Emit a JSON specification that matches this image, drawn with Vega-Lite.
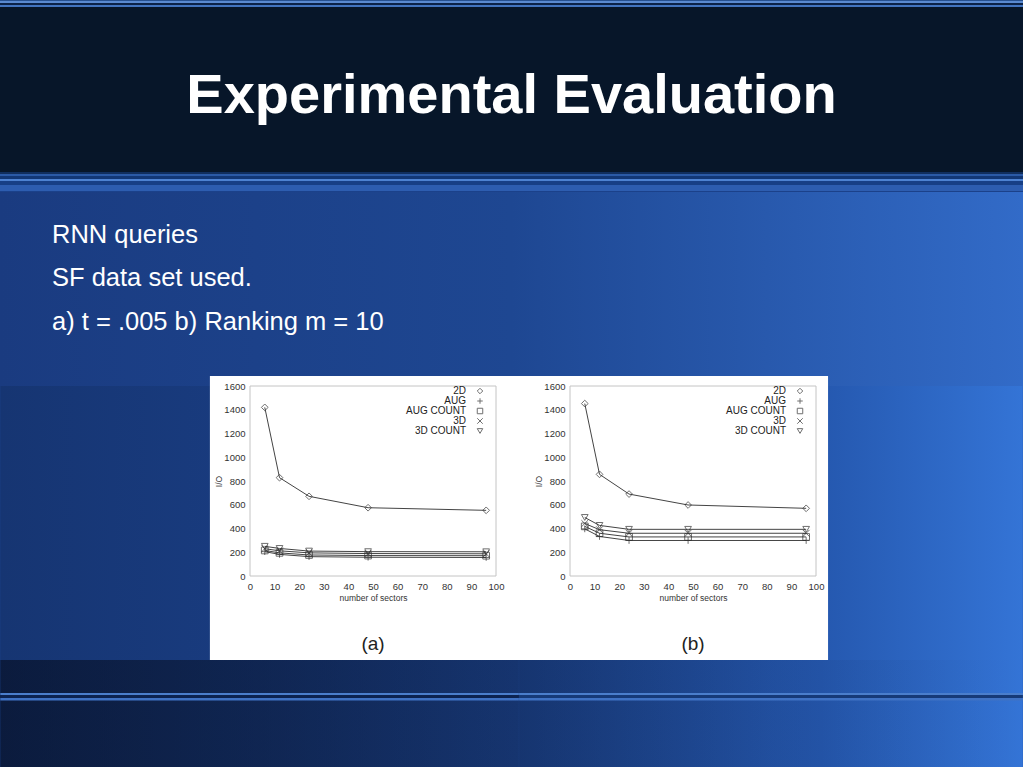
{
  "$schema": "https://vega.github.io/schema/vega-lite/v6.json",
  "padding": 0,
  "background": "#1a4088",
  "spacing": 0,
  "bounds": "flush",
  "resolve": {"legend": {"shape": "independent"}},
  "config": {
    "view": {"stroke": null},
    "font": "Liberation Sans",
    "axis": {"grid": false, "domain": false, "ticks": false, "labelFlush": false, "labelOverlap": false, "labelFontSize": 9.5, "labelColor": "#333", "labelPadding": 5, "titleFontSize": 8.5, "titleFontWeight": "normal", "titleColor": "#333", "labelFont": "Liberation Sans", "titleFont": "Liberation Sans"},
    "axisX": {"titlePadding": 3},
    "axisY": {"titlePadding": 0}
  },
  "datasets": {
    "a": [
      {"series": "2D", "sectors": 6, "io": 1420},
      {"series": "2D", "sectors": 12, "io": 828},
      {"series": "2D", "sectors": 24, "io": 671},
      {"series": "2D", "sectors": 48, "io": 575},
      {"series": "2D", "sectors": 96, "io": 553},
      {"series": "AUG", "sectors": 6, "io": 205},
      {"series": "AUG", "sectors": 12, "io": 182},
      {"series": "AUG", "sectors": 24, "io": 163},
      {"series": "AUG", "sectors": 48, "io": 158},
      {"series": "AUG", "sectors": 96, "io": 156},
      {"series": "AUG COUNT", "sectors": 6, "io": 215},
      {"series": "AUG COUNT", "sectors": 12, "io": 195},
      {"series": "AUG COUNT", "sectors": 24, "io": 177},
      {"series": "AUG COUNT", "sectors": 48, "io": 172},
      {"series": "AUG COUNT", "sectors": 96, "io": 171},
      {"series": "3D", "sectors": 6, "io": 230},
      {"series": "3D", "sectors": 12, "io": 212},
      {"series": "3D", "sectors": 24, "io": 195},
      {"series": "3D", "sectors": 48, "io": 189},
      {"series": "3D", "sectors": 96, "io": 187},
      {"series": "3D COUNT", "sectors": 6, "io": 250},
      {"series": "3D COUNT", "sectors": 12, "io": 232},
      {"series": "3D COUNT", "sectors": 24, "io": 210},
      {"series": "3D COUNT", "sectors": 48, "io": 205},
      {"series": "3D COUNT", "sectors": 96, "io": 204}
    ],
    "b": [
      {"series": "2D", "sectors": 6, "io": 1452},
      {"series": "2D", "sectors": 12, "io": 856},
      {"series": "2D", "sectors": 24, "io": 690},
      {"series": "2D", "sectors": 48, "io": 598},
      {"series": "2D", "sectors": 96, "io": 570},
      {"series": "AUG", "sectors": 6, "io": 397},
      {"series": "AUG", "sectors": 12, "io": 333},
      {"series": "AUG", "sectors": 24, "io": 299},
      {"series": "AUG", "sectors": 48, "io": 299},
      {"series": "AUG", "sectors": 96, "io": 299},
      {"series": "AUG COUNT", "sectors": 6, "io": 418},
      {"series": "AUG COUNT", "sectors": 12, "io": 360},
      {"series": "AUG COUNT", "sectors": 24, "io": 329},
      {"series": "AUG COUNT", "sectors": 48, "io": 329},
      {"series": "AUG COUNT", "sectors": 96, "io": 329},
      {"series": "3D", "sectors": 6, "io": 442},
      {"series": "3D", "sectors": 12, "io": 390},
      {"series": "3D", "sectors": 24, "io": 360},
      {"series": "3D", "sectors": 48, "io": 360},
      {"series": "3D", "sectors": 96, "io": 360},
      {"series": "3D COUNT", "sectors": 6, "io": 493},
      {"series": "3D COUNT", "sectors": 12, "io": 426},
      {"series": "3D COUNT", "sectors": 24, "io": 393},
      {"series": "3D COUNT", "sectors": 48, "io": 393},
      {"series": "3D COUNT", "sectors": 96, "io": 393}
    ]
  },
  "vconcat": [
    {
      "width": 1023,
      "height": 192,
      "data": {"values": [{"t": "Experimental Evaluation"}]},
      "layer": [
        {
          "mark": {"type": "rect", "fill": {"gradient": "linear", "x1": 0, "y1": 0, "x2": 0, "y2": 1, "stops": [
            {"offset": 0, "color": "#26508f"},
            {"offset": 0.0078, "color": "#26508f"},
            {"offset": 0.0078, "color": "#5a8ad0"},
            {"offset": 0.018, "color": "#5a8ad0"},
            {"offset": 0.018, "color": "#0c2348"},
            {"offset": 0.0286, "color": "#0c2348"},
            {"offset": 0.0286, "color": "#4274bf"},
            {"offset": 0.039, "color": "#4274bf"},
            {"offset": 0.039, "color": "#071629"},
            {"offset": 0.8958, "color": "#071629"},
            {"offset": 0.8958, "color": "#102e5e"},
            {"offset": 0.9062, "color": "#102e5e"},
            {"offset": 0.9062, "color": "#2b5aa6"},
            {"offset": 0.9167, "color": "#2b5aa6"},
            {"offset": 0.9167, "color": "#123776"},
            {"offset": 0.9323, "color": "#123776"},
            {"offset": 0.9323, "color": "#4d82d2"},
            {"offset": 0.9427, "color": "#4d82d2"},
            {"offset": 0.9427, "color": "#173f86"},
            {"offset": 0.9635, "color": "#173f86"},
            {"offset": 0.9635, "color": "#2d5db0"},
            {"offset": 0.9948, "color": "#2d5db0"},
            {"offset": 0.9948, "color": "#1b418a"},
            {"offset": 1, "color": "#1b418a"}
          ]}},
          "encoding": {}
        },
        {
          "mark": {"type": "text", "fontSize": 56, "fontWeight": "bold", "color": "white", "font": "Liberation Sans", "baseline": "middle", "align": "center"},
          "encoding": {"text": {"field": "t"}}
        }
      ]
    },
    {
      "width": 1023,
      "height": 194,
      "data": {"values": [{}]},
      "title": {
        "text": ["RNN queries", "SF data set used.", "a) t = .005 b) Ranking m = 10"],
        "orient": "top", "anchor": "start", "frame": "group", "offset": -143, "dx": 52,
        "baseline": "top", "fontSize": 25.5, "lineHeight": 43.5, "font": "Liberation Sans",
        "fontWeight": "normal", "color": "white"
      },
      "mark": {"type": "rect", "fill": {"gradient": "linear", "x1": 0, "y1": 0, "x2": 1, "y2": 0, "stops": [
        {"offset": 0, "color": "#1a3b80"},
        {"offset": 0.5, "color": "#1e4792"},
        {"offset": 1, "color": "#326bc8"}
      ]}},
      "encoding": {}
    },
    {
      "bounds": "flush",
      "spacing": 74,
      "resolve": {"legend": {"shape": "independent"}},
      "hconcat": [
        {
          "width": 176,
          "height": 190,
          "data": {"values": [{}]},
          "mark": {"type": "rect", "opacity": 0},
          "encoding": {}
        },
        {
          "width": 246,
          "height": 190,
          "title": {"text": "(a)", "orient": "bottom", "frame": "group", "anchor": "middle", "baseline": "top", "offset": -132, "fontSize": 19, "fontWeight": "normal", "color": "#222", "font": "Liberation Sans"},
          "layer": [
            {
              "data": {"values": [{}]},
              "mark": {"type": "rect", "clip": false, "fill": {"gradient": "linear", "x1": 0, "y1": 0, "x2": 1, "y2": 0, "stops": [
                {"offset": 0, "color": "#163572"},
                {"offset": 0.5, "color": "#193c80"},
                {"offset": 1, "color": "#1c438c"}
              ]}},
              "encoding": {
                "x": {"datum": -101.5, "type": "quantitative", "scale": {"domain": [0, 100]}, "axis": {"title": "number of sectors", "values": [0, 10, 20, 30, 40, 50, 60, 70, 80, 90, 100], "zindex": 1}},
                "x2": {"datum": 109.3},
                "y": {"datum": -1608, "type": "quantitative", "scale": {"domain": [0, 1600]}, "axis": {"title": "I/O", "format": "d", "values": [0, 200, 400, 600, 800, 1000, 1200, 1400, 1600], "zindex": 1}},
                "y2": {"datum": 1600}
              }
            },
            {
              "data": {"values": [{}]},
              "mark": {"type": "rect", "clip": false, "fill": {"gradient": "linear", "x1": 0, "y1": 0, "x2": 1, "y2": 0, "stops": [
                {"offset": 0, "color": "rgba(4,10,26,0.6)"},
                {"offset": 0.5, "color": "rgba(4,10,26,0.45)"},
                {"offset": 1, "color": "rgba(4,10,26,0.25)"}
              ]}},
              "encoding": {
                "x": {"datum": -101.5, "type": "quantitative", "scale": {"domain": [0, 100]}, "axis": {"title": "number of sectors", "values": [0, 10, 20, 30, 40, 50, 60, 70, 80, 90, 100], "zindex": 1}},
                "x2": {"datum": 109.3},
                "y": {"datum": -1608, "type": "quantitative", "scale": {"domain": [0, 1600]}, "axis": {"title": "I/O", "format": "d", "values": [0, 200, 400, 600, 800, 1000, 1200, 1400, 1600], "zindex": 1}},
                "y2": {"datum": -707}
              }
            },
            {
              "data": {"values": [{}]},
              "mark": {"type": "rect", "clip": false, "fill": {"gradient": "linear", "x1": 0, "y1": 0, "x2": 0, "y2": 1, "stops": [
                {"offset": 0, "color": "#4a7ecc"},
                {"offset": 0.333, "color": "#4a7ecc"},
                {"offset": 0.333, "color": "#0c2350"},
                {"offset": 0.733, "color": "#0c2350"},
                {"offset": 0.733, "color": "#3f72c4"},
                {"offset": 1, "color": "#3f72c4"}
              ]}},
              "encoding": {
                "x": {"datum": -101.5, "type": "quantitative", "scale": {"domain": [0, 100]}, "axis": {"title": "number of sectors", "values": [0, 10, 20, 30, 40, 50, 60, 70, 80, 90, 100], "zindex": 1}},
                "x2": {"datum": 109.3},
                "y": {"datum": -985.3, "type": "quantitative", "scale": {"domain": [0, 1600]}, "axis": {"title": "I/O", "format": "d", "values": [0, 200, 400, 600, 800, 1000, 1200, 1400, 1600], "zindex": 1}},
                "y2": {"datum": -1048.4}
              }
            },
            {
              "data": {"values": [{}]},
              "mark": {"type": "rect", "color": "white", "clip": false},
              "encoding": {
                "x": {"datum": -16.3, "type": "quantitative", "scale": {"domain": [0, 100]}, "axis": {"title": "number of sectors", "values": [0, 10, 20, 30, 40, 50, 60, 70, 80, 90, 100], "zindex": 1}},
                "x2": {"datum": 109.3},
                "y": {"datum": -707, "type": "quantitative", "scale": {"domain": [0, 1600]}, "axis": {"title": "I/O", "format": "d", "values": [0, 200, 400, 600, 800, 1000, 1200, 1400, 1600], "zindex": 1}},
                "y2": {"datum": 1684}
              }
            },
            {
              "data": {"values": [{}]},
              "mark": {"type": "rect", "fillOpacity": 0, "stroke": "#c4c4c4", "strokeWidth": 1, "clip": false},
              "encoding": {
                "x": {"datum": 0, "type": "quantitative", "scale": {"domain": [0, 100]}, "axis": {"title": "number of sectors", "values": [0, 10, 20, 30, 40, 50, 60, 70, 80, 90, 100], "zindex": 1}},
                "x2": {"datum": 100},
                "y": {"datum": 0, "type": "quantitative", "scale": {"domain": [0, 1600]}, "axis": {"title": "I/O", "format": "d", "values": [0, 200, 400, 600, 800, 1000, 1200, 1400, 1600], "zindex": 1}},
                "y2": {"datum": 1600}
              }
            },
            {
              "data": {"name": "a"},
              "mark": {"type": "line", "color": "#444", "strokeWidth": 1},
              "encoding": {
                "x": {"field": "sectors", "type": "quantitative", "scale": {"domain": [0, 100]}, "axis": {"title": "number of sectors", "values": [0, 10, 20, 30, 40, 50, 60, 70, 80, 90, 100], "zindex": 1}},
                "y": {"field": "io", "type": "quantitative", "scale": {"domain": [0, 1600]}, "axis": {"title": "I/O", "format": "d", "values": [0, 200, 400, 600, 800, 1000, 1200, 1400, 1600], "zindex": 1}},
                "detail": {"field": "series"}
              }
            },
            {
              "data": {"name": "a"},
              "mark": {"type": "point", "filled": false, "color": "#333", "size": 45, "strokeWidth": 1},
              "encoding": {
                "x": {"field": "sectors", "type": "quantitative", "scale": {"domain": [0, 100]}, "axis": {"title": "number of sectors", "values": [0, 10, 20, 30, 40, 50, 60, 70, 80, 90, 100], "zindex": 1}},
                "y": {"field": "io", "type": "quantitative", "scale": {"domain": [0, 1600]}, "axis": {"title": "I/O", "format": "d", "values": [0, 200, 400, 600, 800, 1000, 1200, 1400, 1600], "zindex": 1}},
                "shape": {"field": "series", "type": "nominal",
                  "scale": {"domain": ["2D", "AUG", "AUG COUNT", "3D", "3D COUNT"], "range": ["diamond", "M-1,0L1,0M0,-1L0,1", "square", "M-1,-1L1,1M-1,1L1,-1", "triangle-down"]},
                  "legend": {"title": null, "orient": "none", "legendX": 225, "legendY": 0, "padding": 0, "labelFontSize": 10, "labelColor": "#222", "labelAlign": "right", "labelOffset": -19, "labelLimit": 0, "symbolSize": 30, "symbolStrokeWidth": 1, "symbolStrokeColor": "#333", "rowPadding": -2.8, "zindex": 1}}
              }
            }
          ]
        },
        {
          "width": 246,
          "height": 190,
          "title": {"text": "(b)", "orient": "bottom", "frame": "group", "anchor": "middle", "baseline": "top", "offset": -132, "fontSize": 19, "fontWeight": "normal", "color": "#222", "font": "Liberation Sans"},
          "layer": [
            {
              "data": {"values": [{}]},
              "mark": {"type": "rect", "clip": false, "fill": {"gradient": "linear", "x1": 0, "y1": 0, "x2": 1, "y2": 0, "stops": [
                {"offset": 0, "color": "#1c438c"},
                {"offset": 0.6, "color": "#2558af"},
                {"offset": 1, "color": "#3474d6"}
              ]}},
              "encoding": {
                "x": {"datum": -20.7, "type": "quantitative", "scale": {"domain": [0, 100]}, "axis": {"title": "number of sectors", "values": [0, 10, 20, 30, 40, 50, 60, 70, 80, 90, 100], "zindex": 1}},
                "x2": {"datum": 184.1},
                "y": {"datum": -1608, "type": "quantitative", "scale": {"domain": [0, 1600]}, "axis": {"title": "I/O", "format": "d", "values": [0, 200, 400, 600, 800, 1000, 1200, 1400, 1600], "zindex": 1}},
                "y2": {"datum": 1600}
              }
            },
            {
              "data": {"values": [{}]},
              "mark": {"type": "rect", "clip": false, "fill": {"gradient": "linear", "x1": 0, "y1": 0, "x2": 1, "y2": 0, "stops": [
                {"offset": 0, "color": "rgba(4,10,26,0.25)"},
                {"offset": 0.5, "color": "rgba(4,10,26,0.08)"},
                {"offset": 1, "color": "rgba(4,10,26,0)"}
              ]}},
              "encoding": {
                "x": {"datum": -20.7, "type": "quantitative", "scale": {"domain": [0, 100]}, "axis": {"title": "number of sectors", "values": [0, 10, 20, 30, 40, 50, 60, 70, 80, 90, 100], "zindex": 1}},
                "x2": {"datum": 184.1},
                "y": {"datum": -1608, "type": "quantitative", "scale": {"domain": [0, 1600]}, "axis": {"title": "I/O", "format": "d", "values": [0, 200, 400, 600, 800, 1000, 1200, 1400, 1600], "zindex": 1}},
                "y2": {"datum": -707}
              }
            },
            {
              "data": {"values": [{}]},
              "mark": {"type": "rect", "clip": false, "fill": {"gradient": "linear", "x1": 0, "y1": 0, "x2": 0, "y2": 1, "stops": [
                {"offset": 0, "color": "#4a7ecc"},
                {"offset": 0.333, "color": "#4a7ecc"},
                {"offset": 0.333, "color": "#163a78"},
                {"offset": 0.733, "color": "#163a78"},
                {"offset": 0.733, "color": "#3f72c4"},
                {"offset": 1, "color": "#3f72c4"}
              ]}},
              "encoding": {
                "x": {"datum": -20.7, "type": "quantitative", "scale": {"domain": [0, 100]}, "axis": {"title": "number of sectors", "values": [0, 10, 20, 30, 40, 50, 60, 70, 80, 90, 100], "zindex": 1}},
                "x2": {"datum": 184.1},
                "y": {"datum": -985.3, "type": "quantitative", "scale": {"domain": [0, 1600]}, "axis": {"title": "I/O", "format": "d", "values": [0, 200, 400, 600, 800, 1000, 1200, 1400, 1600], "zindex": 1}},
                "y2": {"datum": -1048.4}
              }
            },
            {
              "data": {"values": [{}]},
              "mark": {"type": "rect", "color": "white", "clip": false},
              "encoding": {
                "x": {"datum": -21.8, "type": "quantitative", "scale": {"domain": [0, 100]}, "axis": {"title": "number of sectors", "values": [0, 10, 20, 30, 40, 50, 60, 70, 80, 90, 100], "zindex": 1}},
                "x2": {"datum": 104.9},
                "y": {"datum": -707, "type": "quantitative", "scale": {"domain": [0, 1600]}, "axis": {"title": "I/O", "format": "d", "values": [0, 200, 400, 600, 800, 1000, 1200, 1400, 1600], "zindex": 1}},
                "y2": {"datum": 1684}
              }
            },
            {
              "data": {"values": [{}]},
              "mark": {"type": "rect", "fillOpacity": 0, "stroke": "#c4c4c4", "strokeWidth": 1, "clip": false},
              "encoding": {
                "x": {"datum": 0, "type": "quantitative", "scale": {"domain": [0, 100]}, "axis": {"title": "number of sectors", "values": [0, 10, 20, 30, 40, 50, 60, 70, 80, 90, 100], "zindex": 1}},
                "x2": {"datum": 100},
                "y": {"datum": 0, "type": "quantitative", "scale": {"domain": [0, 1600]}, "axis": {"title": "I/O", "format": "d", "values": [0, 200, 400, 600, 800, 1000, 1200, 1400, 1600], "zindex": 1}},
                "y2": {"datum": 1600}
              }
            },
            {
              "data": {"name": "b"},
              "mark": {"type": "line", "color": "#444", "strokeWidth": 1},
              "encoding": {
                "x": {"field": "sectors", "type": "quantitative", "scale": {"domain": [0, 100]}, "axis": {"title": "number of sectors", "values": [0, 10, 20, 30, 40, 50, 60, 70, 80, 90, 100], "zindex": 1}},
                "y": {"field": "io", "type": "quantitative", "scale": {"domain": [0, 1600]}, "axis": {"title": "I/O", "format": "d", "values": [0, 200, 400, 600, 800, 1000, 1200, 1400, 1600], "zindex": 1}},
                "detail": {"field": "series"}
              }
            },
            {
              "data": {"name": "b"},
              "mark": {"type": "point", "filled": false, "color": "#333", "size": 45, "strokeWidth": 1},
              "encoding": {
                "x": {"field": "sectors", "type": "quantitative", "scale": {"domain": [0, 100]}, "axis": {"title": "number of sectors", "values": [0, 10, 20, 30, 40, 50, 60, 70, 80, 90, 100], "zindex": 1}},
                "y": {"field": "io", "type": "quantitative", "scale": {"domain": [0, 1600]}, "axis": {"title": "I/O", "format": "d", "values": [0, 200, 400, 600, 800, 1000, 1200, 1400, 1600], "zindex": 1}},
                "shape": {"field": "series", "type": "nominal",
                  "scale": {"domain": ["2D", "AUG", "AUG COUNT", "3D", "3D COUNT"], "range": ["diamond", "M-1,0L1,0M0,-1L0,1", "square", "M-1,-1L1,1M-1,1L1,-1", "triangle-down"]},
                  "legend": {"title": null, "orient": "none", "legendX": 225, "legendY": 0, "padding": 0, "labelFontSize": 10, "labelColor": "#222", "labelAlign": "right", "labelOffset": -19, "labelLimit": 0, "symbolSize": 30, "symbolStrokeWidth": 1, "symbolStrokeColor": "#333", "rowPadding": -2.8, "zindex": 1}}
              }
            }
          ]
        }
      ]
    }
  ]
}
